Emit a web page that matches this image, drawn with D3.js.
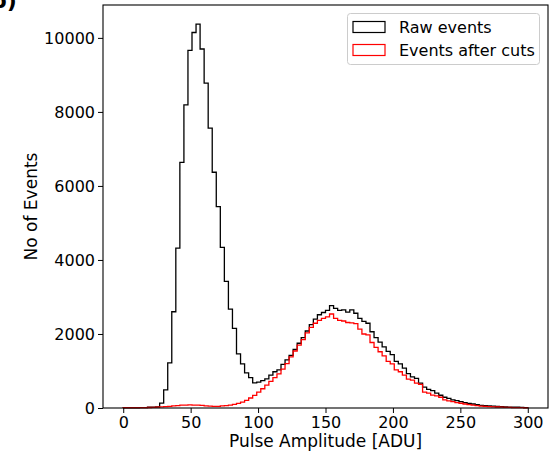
<!DOCTYPE html>
<html><head><meta charset="utf-8">
<script src="https://cdn.jsdelivr.net/npm/d3@7"></script>
<style>body{margin:0;background:#fff}svg{display:block;font-family:"DejaVu Sans",sans-serif}</style>
</head><body><svg id="c" width="554" height="453"></svg>
<script>
// Histogram bins: 100 bins of width 3 ADU from 0 to 300
const binStart = 0, binWidth = 3, nBins = 100;
const rawEvents = [
  2,3,5,6,8,12,20,25,30,130,
  490,1220,2600,4320,6635,8190,9660,10145,10370,9700,
  8780,7560,6370,5440,4340,3420,2670,2150,1460,1190,
  950,820,680,700,740,785,890,980,1030,1180,
  1300,1420,1580,1750,1900,2080,2250,2400,2520,2580,
  2640,2765,2690,2640,2650,2590,2650,2560,2420,2340,
  2290,2060,1900,1780,1650,1530,1440,1260,1190,1080,
  930,840,800,670,565,505,470,400,345,290,
  262,218,197,170,145,127,108,90,72,65,
  55,48,40,35,30,25,22,20,15,12
];
const afterCuts = [
  8,8,8,10,10,12,14,18,22,28,
  35,45,55,65,75,80,82,80,78,70,
  60,50,45,45,55,65,80,100,125,160,
  205,270,340,430,520,620,720,820,920,1050,
  1200,1380,1540,1700,1850,2030,2180,2290,2370,2420,
  2460,2540,2420,2370,2350,2310,2300,2280,2130,2000,
  1975,1770,1640,1520,1410,1260,1190,1030,980,890,
  780,755,670,640,430,400,350,325,290,220,
  190,170,145,128,108,90,75,62,52,45,
  38,32,27,22,18,15,12,10,8,6
];
const xTicks = [0,50,100,150,200,250,300];
const yTicks = [0,2000,4000,6000,8000,10000];
const seriesNames = ["Raw events","Events after cuts"];
const seriesColors = ["#000000","#ff0000"];

const svg = d3.select("#c");
const L = 103, R = 548, T = 5, B = 408;
const yMax = d3.max(rawEvents) * 1.05;
const x = d3.scaleLinear().domain([-15, 315]).range([L, R]);
const y = d3.scaleLinear().domain([0, yMax]).range([B, T]);

function stepPts(vals){
  const pts = [[binStart, 0]];
  vals.forEach((v,i)=>{
    const a = binStart + i*binWidth;
    pts.push([a, v]); pts.push([a+binWidth, v]);
  });
  pts.push([binStart + nBins*binWidth, 0]);
  return pts;
}
const line = d3.line().x(d=>x(d[0])).y(d=>y(d[1]));

const plot = svg.append("g");
[rawEvents, afterCuts].forEach((vals,i)=>{
  plot.append("path").attr("d", line(stepPts(vals)))
    .attr("fill","none").attr("stroke", seriesColors[i]).attr("stroke-width",1.3)
    .attr("stroke-linejoin","miter");
});

// Axes
const xAxis = d3.axisBottom(x).tickValues(xTicks).tickFormat(d3.format("d")).tickSize(5).tickPadding(4);
const yAxis = d3.axisLeft(y).tickValues(yTicks).tickFormat(d3.format("d")).tickSize(5).tickPadding(3);
const gx = svg.append("g").attr("transform",`translate(0,${B})`).call(xAxis);
const gy = svg.append("g").attr("transform",`translate(${L},0)`).call(yAxis);
[gx,gy].forEach(g=>{
  g.select(".domain").remove();
  g.selectAll(".tick line").attr("stroke","#000").attr("stroke-width",1);
  g.selectAll(".tick text").attr("fill","#000").style("font-size","16px").style("font-family","DejaVu Sans");
});
svg.append("rect").attr("x",L).attr("y",T).attr("width",R-L).attr("height",B-T)
  .attr("fill","none").attr("stroke","#000").attr("stroke-width",1.1);

svg.append("text").attr("x",(L+R)/2).attr("y",447).attr("text-anchor","middle")
  .style("font-size","17px").text("Pulse Amplitude [ADU]");
svg.append("text").attr("transform",`translate(37,${(T+B)/2}) rotate(-90)`).attr("text-anchor","middle")
  .style("font-size","17px").text("No of Events");

// panel label (clipped at top)
svg.append("text").attr("x",-9).attr("y",8).style("font-size","22px").style("font-weight","bold").text("b)");

// Legend
const lg = svg.append("g");
lg.append("rect").attr("x",347.5).attr("y",13.5).attr("width",192).attr("height",51).attr("rx",3)
  .attr("fill","#fff").attr("fill-opacity",0.8).attr("stroke","#cccccc").attr("stroke-width",1);
seriesNames.forEach((n,i)=>{
  const yy = 21.5 + i*23;
  lg.append("rect").attr("x",353).attr("y",yy).attr("width",32).attr("height",11)
    .attr("fill","none").attr("stroke",seriesColors[i]).attr("stroke-width",1.2);
  lg.append("text").attr("x",399).attr("y",yy+11.5).style("font-size","16px").text(n);
});
</script></body></html>
